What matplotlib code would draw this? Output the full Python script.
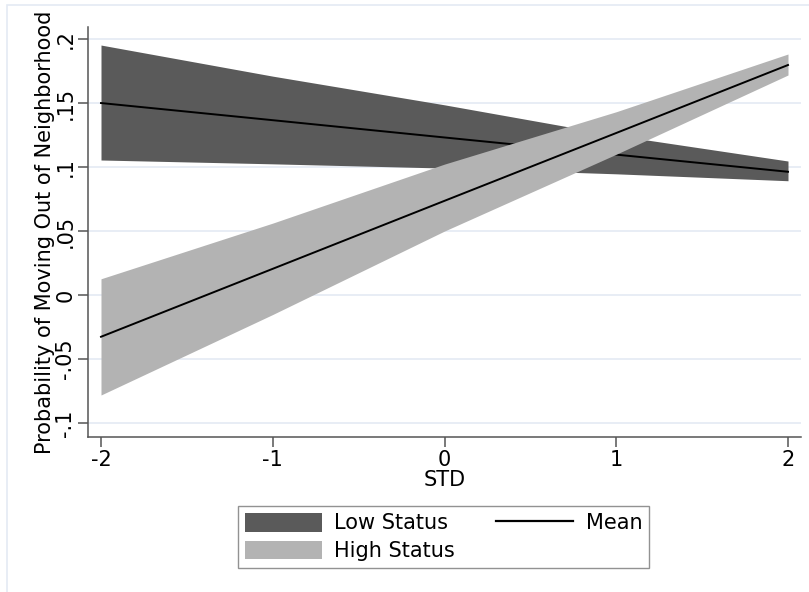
import numpy as np
import matplotlib
matplotlib.use('Agg')
import matplotlib.pyplot as plt
from matplotlib.patches import Patch, Rectangle
from matplotlib.lines import Line2D

# values
std = [-2, -1, 0, 1, 2]
low_mean = [0.150, 0.1366, 0.1231, 0.1097, 0.0963]
low_lo = [0.1055, 0.1025, 0.0992, 0.0947, 0.0893]
low_hi = [0.1953, 0.1710, 0.1486, 0.1247, 0.1047]
high_mean = [-0.0326, 0.0205, 0.0736, 0.1266, 0.1797]
high_lo = [-0.0781, -0.0152, 0.0500, 0.1100, 0.1719]
high_hi = [0.0127, 0.0562, 0.1023, 0.1432, 0.1883]
yticks = [-0.1, -0.05, 0, 0.05, 0.1, 0.15, 0.2]
ylabels = ['-.1', '-.05', '0', '.05', '.1', '.15', '.2']
xticks = [-2, -1, 0, 1, 2]

dark = '#5a5a5a'
light = '#b3b3b3'
grid = '#e6ecf4'
axc = '#555555'

plt.rcParams['font.family'] = ['DejaVu Sans']
fs = 15

fig = plt.figure(figsize=(8.09, 5.92), dpi=100)
# outer graph region border
fig.patches.append(Rectangle((7/809, -0.1), 1.2, 1 - 5/592 + 0.1, transform=fig.transFigure,
                             fill=False, edgecolor='#e4eaf3', linewidth=1.2))

ax = fig.add_axes([88/809, 1 - 437/592, (801 - 88)/809, (437 - 27)/592])
ax.fill_between(std, low_lo, low_hi, color=dark, linewidth=0, zorder=2)
ax.plot(std, low_mean, color='black', linewidth=1.4, zorder=3)
ax.fill_between(std, high_lo, high_hi, color=light, linewidth=0, zorder=4)
ax.plot(std, high_mean, color='black', linewidth=1.4, zorder=5)

ax.set_xlim(-2.0757, 2.0757)
ax.set_ylim(-0.1109, 0.2094)
ax.set_yticks(yticks)
ax.set_yticklabels(ylabels, rotation=90, va='center', fontsize=fs)
ax.set_xticks(xticks)
ax.set_xticklabels([str(t) for t in xticks], fontsize=fs)
for y in yticks:
    ax.axhline(y, color=grid, linewidth=1.3, zorder=1)

for s in ['top', 'right']:
    ax.spines[s].set_visible(False)
for s in ['left', 'bottom']:
    ax.spines[s].set_color(axc)
    ax.spines[s].set_linewidth(1.1)
ax.tick_params(axis='both', colors=axc, length=7, width=1.1, labelcolor='black', pad=2)

ax.set_xlabel('STD', fontsize=fs, labelpad=0)
ax.set_ylabel('Probability of Moving Out of Neighborhood', fontsize=fs, labelpad=0)

handles = [Patch(facecolor=dark, edgecolor='none', label='Low Status'),
           Patch(facecolor=light, edgecolor='none', label='High Status'),
           Line2D([], [], color='black', linewidth=1.6, label='Mean')]
leg = fig.legend(handles=handles, ncol=2, loc='center', bbox_to_anchor=(443.5/809, 1 - 537/592),
                 fontsize=fs, frameon=True, fancybox=False, handlelength=3.7, handleheight=1.0,
                 handletextpad=0.58, columnspacing=2.0, labelspacing=0.34, borderpad=0.35)
leg.get_frame().set_edgecolor('#777777')
leg.get_frame().set_linewidth(1.0)

fig.savefig('out.png', dpi=100)
